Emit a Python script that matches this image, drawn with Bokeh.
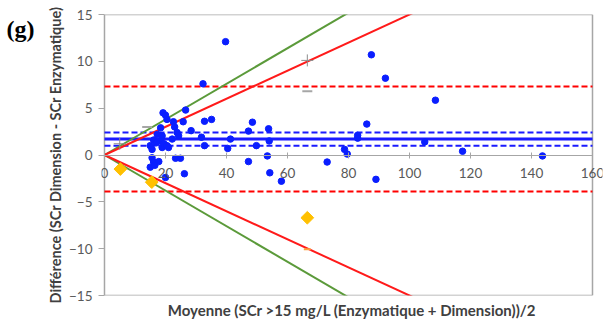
from bokeh.plotting import figure
from bokeh.models import Range1d, Title, FixedTicker, LinearAxis, CustomJSTickFormatter
from bokeh.embed import file_html
from bokeh.resources import INLINE
import math

# ---- data ----
blue_x = [15.0, 15.6, 16.1, 17.3, 18.4, 18.4, 18.9, 18.9, 19.2, 20.0, 20.5, 21.0, 22.2, 22.6,
          23.0, 23.8, 24.3, 25.8, 26.6, 28.4, 31.8, 32.3, 32.8, 32.8, 35.1, 19.5, 20.5, 17.0,
          15.6, 16.1, 17.8, 15.0, 16.5, 23.3, 24.9, 20.0, 26.2,
          39.7, 40.4, 41.3, 47.2, 48.5, 49.8, 53.8, 54.0, 53.4, 47.2, 54.2, 58.0, 73.0, 78.7,
          79.6, 83.0, 83.0, 86.0, 87.5, 92.1, 108.5, 105.0, 117.4, 143.6, 89.0]
blue_y = [1.0, 0.6, 1.6, 2.2, 1.5, 2.9, 2.05, 0.8, 4.5, 4.25, 3.8, 0.8, 1.7, 3.55,
          3.0, 2.4, 2.05, 3.55, 4.8, 2.6, 1.9, 7.6, 3.6, 1.0, 3.8, 1.2, 1.0, 1.3,
          -0.3, -0.75, -0.7, -1.3, -1.1, -0.35, -0.35, -2.4, -2.0,
          12.1, 0.7, 1.7, 2.55, 3.5, 1.0, 2.8, 1.5, -0.1, -0.7, -1.9, -2.8, -0.75, 0.6,
          0.1, 2.1, 1.8, 3.3, 10.7, 8.2, 5.85, 1.4, 0.4, -0.1, -2.6]
orange_x = [5.2, 15.5, 66.5]
orange_y = [-1.5, -2.9, -6.7]
plus_x = [66.5, 5.0]
plus_y = [10.1, 1.2]
grey_dash_x = [66.5, 14.0]
grey_dash_y = [6.8, 3.0]
orange_dash_x = [66.5]
orange_dash_y = [-10.05]

mean_diff = 1.7
ci_mean = [2.4, 1.0]
loa = [7.3, -3.9]
red_slope = 0.15
green_slope = 0.19
x_ticks = [0, 20, 40, 60, 80, 100, 120, 140, 160]
y_ticks = [-15, -10, -5, 0, 5, 10, 15]
x_min, x_max = 0, 160
y_min, y_max = -15, 15
x_title = "Moyenne (SCr >15 mg/L (Enzymatique + Dimension))/2"
y_title = "Différence (SCr Dimension - SCr Enzymatique)"
panel_tag = "(g)"
panel_tag_y = 13.5

# small view padding so the end tick labels of the axis at y=0 are not clipped
pad_left, pad_right = 0.98, 3.28

p = figure(width=606, height=321, output_backend="svg", toolbar_location=None,
           x_range=Range1d(x_min - pad_left, x_max + pad_right), y_range=Range1d(y_min, y_max),
           min_border_left=101, min_border_right=4, min_border_top=14, min_border_bottom=24)
p.background_fill_color = "white"
p.border_fill_color = "white"
p.outline_line_color = None
p.xgrid.visible = False
p.ygrid.visible = False

font = "Lato"
axis_grey = "#A6A6A6"
# x axis crossing at y = 0
xa = p.xaxis[0]
xa.fixed_location = 0
xa.bounds = (x_min, x_max)
xa.ticker = FixedTicker(ticks=x_ticks)
xa.axis_line_color = axis_grey
xa.major_tick_line_color = axis_grey
xa.major_tick_in = 3
xa.major_tick_out = 3
xa.minor_tick_line_color = None
xa.major_label_text_font = font
xa.major_label_text_font_size = "13.5px"
xa.major_label_text_color = "#595959"
xa.major_label_standoff = 10

ya = p.yaxis[0]
ya.ticker = FixedTicker(ticks=y_ticks)
ya.axis_line_color = None
ya.major_tick_line_color = axis_grey
ya.major_tick_in = 3
ya.major_tick_out = 3
ya.minor_tick_line_color = None
ya.major_label_text_font = font
ya.major_label_text_font_size = "13.5px"
ya.major_label_text_color = "#595959"
ya.major_label_standoff = 6

# second left axis that only carries the y title
ytitle_axis = LinearAxis(ticker=FixedTicker(ticks=[]),
                         axis_line_color=None, major_tick_line_color=None,
                         minor_tick_line_color=None,
                         axis_label=y_title, axis_label_text_font=font,
                         axis_label_text_font_style="bold", axis_label_text_font_size="14.5px",
                         axis_label_text_color="#404040", axis_label_standoff=3)
p.add_layout(ytitle_axis, "left")

# outermost left axis that carries only the panel tag "(g)"
tag_axis = LinearAxis(ticker=FixedTicker(ticks=[panel_tag_y]),
                      formatter=CustomJSTickFormatter(code='return "%s"' % panel_tag),
                      axis_line_color=None, major_tick_line_color=None,
                      major_tick_in=0, major_tick_out=0, minor_tick_line_color=None,
                      major_label_text_font="Liberation Serif",
                      major_label_text_font_style="bold",
                      major_label_text_font_size="24px",
                      major_label_text_color="black", major_label_standoff=9)
p.add_layout(tag_axis, "left")

p.add_layout(Title(text=x_title, align="center",
                   text_font=font, text_font_style="bold", text_font_size="15px",
                   text_color="#404040", standoff=6, offset=-5), "below")

# plot-area border (left edge doubles as the y axis line)
p.segment(x0=[x_min, x_min, x_max, x_min], y0=[y_min, y_max, y_min, y_min],
          x1=[x_min, x_max, x_max, x_max], y1=[y_max, y_max, y_max, y_min],
          line_color=axis_grey, line_width=1.5)

# limits of agreement and mean
n = len(loa)
p.segment(x0=[x_min] * n, x1=[x_max] * n, y0=loa, y1=loa,
          line_color="#FF0000", line_width=2, line_dash="6 3")
p.segment(x0=[x_min] * len(ci_mean), x1=[x_max] * len(ci_mean), y0=ci_mean, y1=ci_mean,
          line_color="#1A1AFF", line_width=2, line_dash="6 3")
p.segment(x0=[x_min], x1=[x_max], y0=[mean_diff], y1=[mean_diff],
          line_color="#1A1AFF", line_width=3)

# proportional lines
for s, c in [(green_slope, "#5B9A3A"), (red_slope, "#FF1A1A")]:
    p.line([x_min, x_max], [0, s * x_max], line_color=c, line_width=2)
    p.line([x_min, x_max], [0, -s * x_max], line_color=c, line_width=2)

p.scatter(blue_x, blue_y, size=6.5, marker="circle", fill_color="#0A1EFF", line_color="#0A1EFF")
p.scatter(orange_x, orange_y, size=9, marker="square", angle=math.pi / 4,
          fill_color="#FFC000", line_color="#FFC000")
p.scatter(plus_x, plus_y, size=12, marker="cross", line_color="#8C8C8C", line_width=1)
p.scatter(grey_dash_x, grey_dash_y, size=10, marker="dash", line_color="#A6A6A6", line_width=2)
p.scatter(orange_dash_x, orange_dash_y, size=7, marker="dash", line_color="#FFA040", line_width=2)

open("out.html", "w").write(file_html(p, INLINE))
